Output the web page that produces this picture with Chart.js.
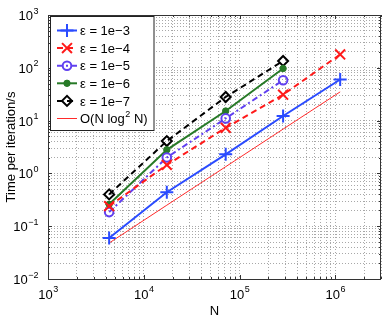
<!DOCTYPE html>
<html>
<head>
<meta charset="utf-8">
<script src="https://cdn.jsdelivr.net/npm/chart.js@4/dist/chart.umd.min.js"></script>
<style>
  html, body { margin: 0; padding: 0; background: #fff; }
  #wrap { width: 390px; height: 316px; }
</style>
</head>
<body>
<div id="wrap"><canvas id="timing"></canvas></div>
<script>
// problem sizes N (x axis)
const sizes = [4350, 17400, 71700, 285000, 1124000];

// time per iteration in seconds, one array per tolerance
const eps1e3 = [0.060, 0.44, 2.3, 12.2, 60];
const eps1e4 = [0.24, 1.45, 7.3, 31, 179];
const eps1e5 = [0.185, 2.0, 11.0, 58];
const eps1e6 = [0.26, 2.8, 15.2, 97];
const eps1e7 = [0.40, 4.1, 28, 135];
const refLine = [0.048, 0.25, 1.34, 6.9, 35];

const seriesLabels = ['ε = 1e−3', 'ε = 1e−4', 'ε = 1e−5', 'ε = 1e−6', 'ε = 1e−7', 'O(N log² N)'];

const xExps = [3, 4, 5, 6];
const yExps = [-2, -1, 0, 1, 2, 3];

const FONT = '"Liberation Sans", Arial, Helvetica, sans-serif';

function pts(vals) {
    return vals.map((v, i) => ({ x: sizes[i], y: v }));
}

// log ticks 1..9 per decade, clipped to axis range
function logTicks(min, max) {
    const out = [];
    for (let e = Math.floor(Math.log10(min)); e <= Math.ceil(Math.log10(max)); e++) {
        for (let s = 1; s <= 9; s++) {
            const v = s * Math.pow(10, e);
            if (v >= min * 0.999 && v <= max * 1.001) out.push({ value: v });
        }
    }
    return out;
}

function drawPow(ctx, exp, x, y, align) {
    ctx.font = '13px ' + FONT;
    const wb = ctx.measureText('10').width;
    ctx.font = '9px ' + FONT;
    const es = exp < 0 ? '−' + (-exp) : String(exp);
    const we = ctx.measureText(es).width;
    let x0;
    if (align === 'center') x0 = x - (wb + we) / 2;
    else x0 = x - wb - we;
    ctx.textAlign = 'left';
    ctx.textBaseline = 'alphabetic';
    ctx.font = '13px ' + FONT;
    ctx.fillText('10', x0, y);
    ctx.font = '9px ' + FONT;
    ctx.fillText(es, x0 + wb + 0.5, y - 6.5);
}

const matlabFrame = {
    id: 'matlabFrame',
    afterDraw(chart) {
        const ctx = chart.ctx;
        const a = chart.chartArea;
        const xs = chart.scales.x, ys = chart.scales.y;
        ctx.save();
        // box
        ctx.strokeStyle = '#333';
        ctx.lineWidth = 1;
        ctx.strokeRect(Math.round(a.left) + 0.5, Math.round(a.top) + 0.5,
            Math.round(a.right - a.left) - 1, Math.round(a.bottom - a.top));
        // inward tick marks on all four sides
        ctx.beginPath();
        xs.ticks.forEach(t => {
            const px = Math.round(xs.getPixelForValue(t.value)) + 0.5;
            const major = Math.abs(Math.log10(t.value) % 1) < 1e-9;
            const L = major ? 4 : 2;
            ctx.moveTo(px, a.bottom); ctx.lineTo(px, a.bottom - L);
            ctx.moveTo(px, a.top); ctx.lineTo(px, a.top + L);
        });
        ys.ticks.forEach(t => {
            const py = Math.round(ys.getPixelForValue(t.value)) + 0.5;
            const major = Math.abs(Math.log10(t.value) - Math.round(Math.log10(t.value))) < 1e-9;
            const L = major ? 4 : 2;
            ctx.moveTo(a.left, py); ctx.lineTo(a.left + L, py);
            ctx.moveTo(a.right, py); ctx.lineTo(a.right - L, py);
        });
        ctx.stroke();

        // tick labels
        ctx.fillStyle = '#000';
        xExps.forEach(e => drawPow(ctx, e, xs.getPixelForValue(Math.pow(10, e)), 298.5, 'center'));
        yExps.forEach(e => drawPow(ctx, e, 38, ys.getPixelForValue(Math.pow(10, e)) + 5, 'right'));

        // axis titles
        ctx.font = '13px ' + FONT;
        ctx.textAlign = 'center';
        ctx.textBaseline = 'alphabetic';
        ctx.fillText('N', (a.left + a.right) / 2, 314.5);
        ctx.save();
        ctx.translate(14.5, (a.top + a.bottom) / 2);
        ctx.rotate(-Math.PI / 2);
        ctx.fillText('Time per iteration/s', 0, 0);
        ctx.restore();

        // legend
        const lx = 50.5, ly = 16.5, lw = 103.5, lh = 114;
        ctx.fillStyle = '#fff';
        ctx.fillRect(lx, ly, lw, lh);
        ctx.strokeStyle = '#222';
        ctx.lineWidth = 1;
        ctx.strokeRect(lx, ly, lw, lh);
        chart.data.datasets.forEach((ds, i) => {
            const y = 30.5 + i * 17.6;
            ctx.save();
            ctx.strokeStyle = ds.borderColor;
            ctx.lineWidth = ds.borderWidth;
            ctx.setLineDash(ds.borderDash || []);
            ctx.beginPath();
            ctx.moveTo(57, y); ctx.lineTo(77, y);
            ctx.stroke();
            ctx.setLineDash([]);
            if (ds.pointRadius > 0) {
                ctx.fillStyle = ds.pointBackgroundColor;
                ctx.strokeStyle = ds.pointBorderColor;
                ctx.lineWidth = ds.pointBorderWidth;
                Chart.helpers.drawPoint(ctx, {
                    pointStyle: ds.pointStyle, radius: ds.pointRadius,
                    borderWidth: ds.pointBorderWidth, rotation: 0
                }, 67, y);
            }
            ctx.restore();
            ctx.fillStyle = '#000';
            ctx.textAlign = 'left';
            ctx.textBaseline = 'alphabetic';
            ctx.font = '13px ' + FONT;
            const label = seriesLabels[i];
            if (label.indexOf('²') >= 0) {
                const [pre, post] = label.split('²');
                ctx.fillText(pre, 80, y + 4.7);
                let w = ctx.measureText(pre).width;
                ctx.font = '9px ' + FONT;
                ctx.fillText('2', 80 + w + 0.5, y - 1.8);
                const w2 = ctx.measureText('2').width;
                ctx.font = '13px ' + FONT;
                ctx.fillText(post, 80 + w + w2 + 0.5, y + 4.7);
            } else {
                ctx.fillText(label, 80, y + 4.7);
            }
        });
        ctx.restore();
    }
};

const ctx = document.getElementById('timing');
new Chart(ctx, {
    type: 'scatter',
    data: {
        datasets: [{
            label: seriesLabels[0],
            data: pts(eps1e3),
            showLine: true,
            borderColor: '#2a4bff',
            borderWidth: 2,
            pointStyle: 'cross',
            pointRadius: 6.5,
            pointBorderWidth: 2,
            pointBorderColor: '#2a4bff',
            pointBackgroundColor: '#2a4bff'
        },
        {
            label: seriesLabels[1],
            data: pts(eps1e4),
            showLine: true,
            borderColor: '#ff1a1a',
            borderWidth: 2,
            borderDash: [6, 4],
            pointStyle: 'crossRot',
            pointRadius: 7,
            pointBorderWidth: 2,
            pointBorderColor: '#ff1a1a',
            pointBackgroundColor: '#ff1a1a'
        },
        {
            label: seriesLabels[2],
            data: pts(eps1e5),
            showLine: true,
            borderColor: '#6040f0',
            borderWidth: 2,
            borderDash: [6, 3, 2, 3],
            pointStyle: 'circle',
            pointRadius: 4.3,
            pointBorderWidth: 2,
            pointBorderColor: '#6040f0',
            pointBackgroundColor: 'rgba(0,0,0,0)'
        },
        {
            label: seriesLabels[3],
            data: pts(eps1e6),
            showLine: true,
            borderColor: '#277a27',
            borderWidth: 2,
            pointStyle: 'circle',
            pointRadius: 3.2,
            pointBorderWidth: 1,
            pointBorderColor: '#277a27',
            pointBackgroundColor: '#277a27'
        },
        {
            label: seriesLabels[4],
            data: pts(eps1e7),
            showLine: true,
            borderColor: '#000',
            borderWidth: 2,
            borderDash: [6, 4],
            pointStyle: 'rectRot',
            pointRadius: 5,
            pointBorderWidth: 2,
            pointBorderColor: '#000',
            pointBackgroundColor: 'rgba(0,0,0,0)'
        },
        {
            label: seriesLabels[5],
            data: pts(refLine),
            showLine: true,
            borderColor: '#ff2a2a',
            borderWidth: 1,
            pointRadius: 0
        }]
    },
    options: {
        responsive: true,
        maintainAspectRatio: false,
        animation: false,
        layout: { padding: { top: 15, right: 6, left: 0, bottom: 0 } },
        plugins: {
            legend: { display: false },
            tooltip: { enabled: false }
        },
        scales: {
            x: {
                type: 'logarithmic',
                min: 1000,
                max: 3e6,
                afterBuildTicks: s => { s.ticks = logTicks(1000, 3e6); },
                afterFit: s => { s.height = 37; },
                ticks: { display: false },
                grid: { color: '#a8a8a8', drawTicks: false },
                border: { display: false, dash: [1, 2] }
            },
            y: {
                type: 'logarithmic',
                min: 0.01,
                max: 1000,
                afterBuildTicks: s => { s.ticks = logTicks(0.01, 1000); },
                afterFit: s => { s.width = 48; },
                ticks: { display: false },
                grid: { color: '#a8a8a8', drawTicks: false },
                border: { display: false, dash: [1, 2] }
            }
        }
    },
    plugins: [matlabFrame]
});
</script>
</body>
</html>
